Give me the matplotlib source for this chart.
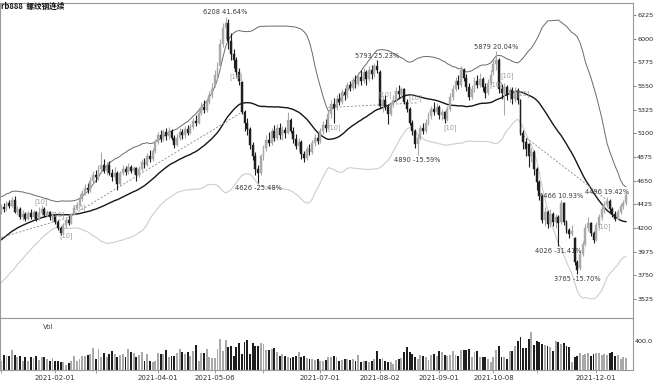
import numpy as np
import pandas as pd
import matplotlib
matplotlib.use("Agg")
import matplotlib.pyplot as plt

plt.rcParams['font.family'] = ['DejaVu Sans', 'Noto Sans CJK SC']

title = "rb888  螺纹钢连续"
holidays = ["2021-02-11", "2021-02-12", "2021-02-15", "2021-02-16", "2021-02-17",
            "2021-04-05", "2021-05-03", "2021-05-04", "2021-05-05", "2021-06-14",
            "2021-09-20", "2021-09-21", "2021-10-01", "2021-10-04", "2021-10-05",
            "2021-10-06", "2021-10-07"]

pre_closes = [3720, 3760, 3740, 3800, 3850, 3820, 3880, 3920, 3900, 3950, 3980, 3960,
              4010, 4050, 4030, 4080, 4120, 4100, 4150, 4180, 4160, 4210, 4250, 4230,
              4280, 4300, 4270, 4320, 4350, 4330, 4370, 4390]

opens = [4360,4400,4380,4440,4410,4470,4350,4380,4300,4330,
         4290,4340,4300,4350,4290,4340,4380,4320,4350,4300,
         4320,4260,4200,4150,4230,4280,4250,4330,4390,4420,
         4480,4530,4580,4560,4650,4700,4680,4760,4800,4740,
         4800,4720,4680,4720,4620,4720,4760,4730,4780,4740,
         4770,4700,4760,4830,4800,4880,4860,4930,5020,5080,
         5050,5110,5070,5120,5060,4990,5060,5110,5080,5140,
         5100,5160,5220,5200,5290,5350,5320,5400,5460,5560,
         5650,5740,5950,6100,6150,5980,5850,5800,5680,5590,
         5300,5200,5140,4990,4880,4760,4720,4880,4960,5040,
         5010,5120,5060,5150,5080,5130,5100,5230,5120,5050,
         4980,5020,4900,4870,4950,4920,5010,5060,5030,5120,
         5180,5150,5280,5380,5340,5430,5400,5490,5460,5560,
         5530,5610,5570,5640,5600,5680,5620,5700,5660,5740,
         5680,5360,5420,5350,5280,5380,5420,5500,5470,5520,
         5400,5330,5200,5120,5000,5060,5150,5120,5200,5260,
         5330,5300,5350,5270,5300,5240,5330,5450,5520,5600,
         5560,5700,5630,5540,5450,5520,5600,5560,5620,5540,
         5480,5580,5680,5760,5800,5520,5480,5540,5460,5510,
         5430,5500,5420,5100,5020,5000,4880,4920,4760,4640,
         4500,4280,4350,4240,4330,4260,4300,4260,4440,4260,
         4180,4140,4100,3880,3820,3950,4050,4200,4250,4150,
         4090,4230,4300,4380,4420,4460,4380,4330,4290,4350,
         4410,4440]

closes = [4400,4380,4440,4410,4470,4350,4380,4300,4330,4290,
          4340,4300,4350,4290,4340,4380,4320,4350,4300,4320,
          4260,4200,4150,4230,4280,4250,4330,4390,4420,4480,
          4530,4580,4560,4650,4700,4680,4760,4800,4740,4800,
          4720,4680,4720,4620,4720,4760,4730,4780,4740,4770,
          4700,4760,4830,4800,4880,4860,4930,5020,5080,5050,
          5110,5070,5120,5060,4990,5060,5110,5080,5140,5100,
          5160,5220,5200,5290,5350,5320,5400,5460,5520,5650,
          5720,5950,6100,6150,5980,5850,5800,5680,5600,5300,
          5200,5140,4990,4880,4760,4720,4880,4960,5040,5010,
          5120,5060,5150,5080,5130,5100,5230,5120,5050,4980,
          5020,4900,4870,4950,4920,5010,5060,5030,5120,5180,
          5150,5280,5380,5340,5430,5400,5490,5460,5560,5530,
          5610,5570,5640,5600,5680,5620,5700,5660,5740,5700,
          5360,5420,5350,5280,5380,5420,5500,5470,5520,5400,
          5330,5200,5120,5000,5060,5150,5120,5200,5260,5330,
          5300,5350,5270,5300,5240,5330,5450,5520,5600,5560,
          5700,5630,5540,5450,5520,5600,5560,5620,5540,5480,
          5580,5650,5760,5800,5520,5480,5540,5460,5510,5430,
          5500,5420,5100,5020,4950,4880,4920,4760,4640,4500,
          4280,4350,4240,4330,4260,4300,4250,4440,4260,4180,
          4140,4170,3880,3800,3950,4050,4200,4250,4150,4090,
          4230,4300,4380,4420,4460,4380,4330,4290,4350,4410,
          4440,4510]

highs = [4430,4440,4460,4470,4490,4500,4410,4400,4370,4350,
         4360,4380,4370,4360,4400,4420,4400,4370,4360,4340,
         4330,4280,4220,4250,4300,4320,4340,4410,4450,4520,
         4560,4620,4630,4680,4740,4750,4800,4920,4860,4830,
         4840,4760,4780,4740,4740,4800,4790,4820,4800,4790,
         4780,4790,4860,4870,4910,4940,4960,5050,5110,5130,
         5140,5150,5160,5140,5080,5090,5150,5140,5170,5180,
         5190,5250,5270,5320,5400,5420,5440,5500,5580,5700,
         5780,6000,6150,6208,6190,6050,5900,5830,5720,5600,
         5320,5250,5160,5020,4920,4800,4900,4990,5080,5110,
         5150,5180,5190,5200,5170,5160,5300,5250,5160,5090,
         5060,5040,4930,4980,5000,5040,5090,5100,5150,5220,
         5240,5310,5420,5440,5460,5480,5520,5530,5590,5600,
         5640,5650,5680,5700,5720,5700,5740,5750,5770,5793,
         5700,5450,5460,5380,5400,5460,5540,5560,5540,5530,
         5430,5350,5230,5140,5090,5180,5200,5240,5300,5360,
         5400,5390,5370,5330,5310,5360,5480,5560,5640,5650,
         5740,5720,5660,5580,5560,5640,5650,5670,5640,5580,
         5620,5700,5800,5879,5820,5570,5580,5560,5540,5540,
         5540,5530,5430,5130,5060,5010,4960,4940,4780,4660,
         4520,4400,4370,4380,4350,4330,4320,4466,4450,4280,
         4200,4230,4110,3900,3980,4080,4240,4300,4260,4170,
         4260,4330,4420,4460,4496,4480,4400,4360,4380,4440,
         4470,4540]

lows = [4330,4350,4360,4390,4400,4340,4320,4290,4280,4270,
        4280,4290,4290,4270,4280,4320,4300,4300,4280,4270,
        4240,4180,4130,4140,4200,4230,4240,4320,4370,4410,
        4460,4510,4530,4540,4630,4640,4660,4740,4720,4700,
        4700,4650,4660,4560,4600,4700,4700,4710,4720,4710,
        4650,4680,4740,4770,4790,4830,4840,4910,5000,5020,
        5030,5040,5050,5040,4960,4980,5040,5050,5060,5080,
        5090,5140,5170,5190,5270,5290,5300,5380,5440,5540,
        5620,5720,5920,6000,5900,5800,5720,5640,5560,5280,
        5120,5080,4950,4850,4700,4626,4700,4850,4930,4980,
        4990,5030,5040,5050,5040,5060,5090,5100,5010,4950,
        4930,4860,4830,4850,4890,4900,4980,5000,5010,5090,
        5110,5140,5250,5200,5320,5370,5380,5420,5440,5500,
        5510,5530,5550,5560,5580,5560,5600,5620,5640,5670,
        5340,5300,5320,5190,5260,5350,5400,5440,5450,5380,
        5300,5180,5080,4960,4890,5040,5090,5100,5180,5240,
        5270,5280,5240,5230,5200,5220,5310,5420,5500,5520,
        5540,5600,5500,5420,5430,5490,5530,5540,5500,5440,
        5460,5560,5650,5700,5480,5430,5270,5420,5400,5380,
        5400,5380,5080,4950,4880,4780,4830,4700,4560,4470,
        4250,4220,4200,4210,4220,4200,4026,4240,4230,4150,
        4100,4120,3850,3765,3800,3930,4030,4170,4120,4060,
        4080,4200,4280,4340,4400,4350,4300,4270,4280,4330,
        4380,4420]

volumes = [129,207,198,198,276,207,175,198,129,175,
           129,184,161,198,143,175,184,152,129,161,
           129,120,115,106,69,92,129,198,129,152,
           198,189,207,221,304,152,290,184,230,184,
           221,267,221,175,212,221,175,290,244,230,
           175,207,244,129,221,129,106,120,235,221,
           221,281,175,198,198,230,290,253,221,244,
           198,267,345,129,230,230,290,175,161,161,
           290,428,267,414,313,336,189,313,368,221,
           382,414,221,368,336,336,368,359,276,276,
           290,304,244,198,221,198,175,161,175,198,
           244,175,189,161,152,152,138,152,129,
           129,138,175,175,198,175,129,138,152,152,
           138,152,129,212,106,120,129,106,129,152,
           267,152,161,129,106,115,83,138,152,161,
           244,322,253,221,175,152,207,198,184,143,
           207,221,198,267,244,207,198,207,267,207,
           198,281,281,281,290,184,253,258,175,175,
           175,152,106,175,276,336,175,175,152,258,
           267,336,405,451,304,304,428,520,345,396,
           382,359,345,336,313,267,405,382,359,368,
           327,313,106,175,198,230,207,221,235,198,
           221,235,230,207,221,212,230,244,198,212,
           152,175,161]

ext_labels = ["6208 41.64%", "5793 25.23%", "5879 20.04%", "4626 -25.48%",
              "4890 -15.59%", "4466 10.93%", "4026 -31.41%", "3765 -15.70%",
              "4496 19.42%"]
ext_idx = [83, 139, 183, 95, 154, 207, 206, 213, 224]
ext_is_high = [True, True, True, False, False, True, False, False, True]

sig_idx = [15, 21, 24, 29, 87, 123, 142, 153, 166, 183, 187, 193, 223]
sig_price = [4447, 4325, 4125, 4395, 5640, 5150, 5470, 5440, 5150, 5560, 5650, 5480, 4210]

trend_idx = [[0, 25], [25, 89], [121, 154], [192, 224]]
trend_price = [[4110, 4300], [4300, 5300], [5345, 5390], [5100, 4465]]

price_ticks = [3525, 3750, 3975, 4200, 4425, 4650, 4875, 5100, 5325, 5550, 5775, 6000, 6225]
labeled_dates = ["2021-02-01", "2021-04-01", "2021-05-06", "2021-07-01", "2021-08-02",
                 "2021-09-01", "2021-10-08", "2021-12-01"]
unlabeled_dates = ["2021-01-04", "2021-03-01", "2021-06-01", "2021-11-01"]

boll_n = 33
boll_k = 2

# ---------------------------------------------------------------------------
dates = pd.bdate_range("2021-01-04", "2021-12-31")
dates = dates[~dates.isin(pd.to_datetime(holidays))][:len(closes)]
n = len(closes)
x = np.arange(n)
o = np.array(opens, float); c = np.array(closes, float)
h = np.array(highs, float); l = np.array(lows, float)
v = np.array(volumes, float)

full = pd.Series(pre_closes + closes, dtype=float)
mid = full.rolling(boll_n).mean().to_numpy()[-n:]
sd = full.rolling(boll_n).std(ddof=0).to_numpy()[-n:]
up = mid + boll_k * sd
lo = mid - boll_k * sd

W, H = 653, 383
fig = plt.figure(figsize=(W / 100, H / 100), dpi=100)
fig.patch.set_facecolor("white")

def fx(px): return px / W
def fy(py): return 1 - py / H

ax = fig.add_axes([0, fy(318), fx(633), fy(3) - fy(318)])
axv = fig.add_axes([0, fy(370), fx(633), fy(318) - fy(370)], sharex=ax)

UP = "#a9a9a9"
DN = "#1e1e1e"
cols = np.where(c >= o, UP, DN)

ax.vlines(x, l, h, colors=cols, linewidth=0.8, zorder=3)
body_b = np.minimum(o, c)
body_h = np.maximum(np.abs(c - o), 8)
ax.bar(x, body_h, bottom=body_b, width=0.7, color=cols, edgecolor=cols, linewidth=0.3, zorder=4)

ax.plot(x, up, color="#6a6a6a", lw=0.7, zorder=2)
ax.plot(x, mid, color="#151515", lw=1.0, zorder=2)
ax.plot(x, lo, color="#cdcdcd", lw=0.8, zorder=2)

for ti, tp in zip(trend_idx, trend_price):
    ax.plot(ti, tp, color="#8a8a8a", lw=0.6, ls=(0, (2.5, 2)), zorder=2)

for i, lab, ish in zip(ext_idx, ext_labels, ext_is_high):
    if ish:
        ax.annotate(lab, (i, h[i]), xytext=(0, 1), textcoords="offset points",
                    ha="center", va="bottom", fontsize=4.8, color="#3a3a3a", zorder=6)
    else:
        ax.annotate(lab, (i, l[i]), xytext=(0, -1.5), textcoords="offset points",
                    ha="center", va="top", fontsize=4.8, color="#3a3a3a", zorder=6)

for i, p in zip(sig_idx, sig_price):
    ax.text(i, p, "[10]", fontsize=4.8, color="#9a9a9a", ha="center", va="center", zorder=5)

ax.set_ylim(3344, 6339)
ax.set_xlim(-0.4, 233.6)
ax.yaxis.tick_right()
ax.set_yticks(price_ticks)
ax.set_yticklabels([str(t) for t in price_ticks])
ax.tick_params(axis="y", labelsize=4.6, length=2, width=0.5, colors="#555555", labelcolor="#222222", pad=1)
ax.tick_params(axis="x", bottom=False, labelbottom=False)
for s in ax.spines.values():
    s.set_color("#9a9a9a"); s.set_linewidth(0.8)

axv.bar(x, v, width=0.7, color=cols, linewidth=0)
axv.set_ylim(0, 717)
axv.yaxis.tick_right()
axv.set_yticks([400])
axv.set_yticklabels(["400.0"])
axv.tick_params(axis="y", labelsize=4.6, length=0, pad=1, labelcolor="#222222")
for s in axv.spines.values():
    s.set_color("#9a9a9a"); s.set_linewidth(0.8)
axv.text(43 / 633, 0.88, "Vol", transform=axv.transAxes, fontsize=5, color="#444444", ha="left", va="top")

date_list = list(dates.strftime("%Y-%m-%d"))
tick_pos = [date_list.index(d) for d in labeled_dates] + [date_list.index(d) for d in unlabeled_dates]
tick_lab = labeled_dates + [""] * len(unlabeled_dates)
axv.set_xticks(tick_pos)
axv.set_xticklabels(tick_lab)
axv.tick_params(axis="x", labelsize=5, length=2, width=0.5, colors="#777777", labelcolor="#333333", pad=1.5)

fig.text(fx(1), fy(2), title, fontsize=5.5, fontweight="bold", color="#111111",
         ha="left", va="top", family=["Noto Sans CJK SC", "DejaVu Sans"])

fig.savefig("out.png", dpi=100, facecolor="white")
